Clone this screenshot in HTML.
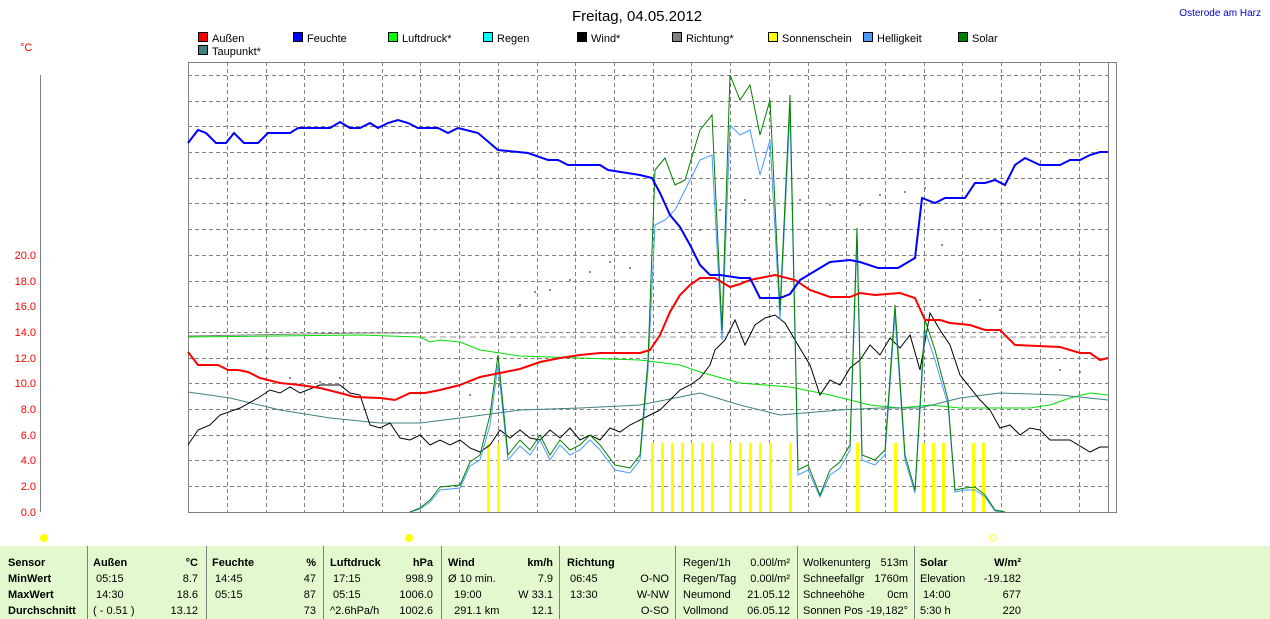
<!DOCTYPE html><html><head><meta charset="utf-8"><style>
body{margin:0;width:1270px;height:619px;background:#fff;font-family:"Liberation Sans",sans-serif;position:relative;overflow:hidden}
.t{position:absolute;font-size:11px;white-space:nowrap}
.b{font-weight:bold}
.r{text-align:right}
</style></head><body>
<svg width="1270" height="619" style="position:absolute;left:0;top:0" font-family="Liberation Sans" font-size="11">
<text x="637" y="21" font-size="15" text-anchor="middle" fill="#000">Freitag, 04.05.2012</text>
<text x="1261" y="16" font-size="10" text-anchor="end" fill="#0000cc">Osterode am Harz</text>
<text x="20" y="51" font-size="11" fill="#f00">°C</text>
<g stroke="#000" stroke-width="1">
<rect x="198.5" y="32.5" width="9" height="9" fill="#f00"/><rect x="293.5" y="32.5" width="9" height="9" fill="#00f"/>
<rect x="388.5" y="32.5" width="9" height="9" fill="#0f0"/><rect x="483.5" y="32.5" width="9" height="9" fill="#0ff"/>
<rect x="577.5" y="32.5" width="9" height="9" fill="#000"/><rect x="672.5" y="32.5" width="9" height="9" fill="#808080"/>
<rect x="768.5" y="32.5" width="9" height="9" fill="#ff0"/><rect x="863.5" y="32.5" width="9" height="9" fill="#4a9aff"/>
<rect x="958.5" y="32.5" width="9" height="9" fill="#008000"/><rect x="198.5" y="45.5" width="9" height="9" fill="#408080"/>
</g>
<g font-size="11" fill="#000">
<text x="212" y="42">Außen</text><text x="307" y="42">Feuchte</text><text x="402" y="42">Luftdruck*</text><text x="497" y="42">Regen</text><text x="591" y="42">Wind*</text><text x="686" y="42">Richtung*</text><text x="782" y="42">Sonnenschein</text><text x="877" y="42">Helligkeit</text><text x="972" y="42">Solar</text><text x="212" y="55">Taupunkt*</text>
</g>
<line x1="40.5" y1="75" x2="40.5" y2="512" stroke="#808080"/>
<g fill="#f00" font-size="11" text-anchor="end">
<text x="36" y="259">20.0</text><text x="36" y="285">18.0</text><text x="36" y="310">16.0</text><text x="36" y="336">14.0</text><text x="36" y="362">12.0</text><text x="36" y="387">10.0</text><text x="36" y="413">8.0</text><text x="36" y="439">6.0</text><text x="36" y="464">4.0</text><text x="36" y="490">2.0</text><text x="36" y="516">0.0</text>
</g>
<g stroke="#808080" stroke-dasharray="4,3" stroke-width="1">
<path d="M188 75.5H1108M188 101.5H1108M188 126.5H1108M188 152.5H1108M188 178.5H1108M188 203.5H1108M188 229.5H1108M188 255.5H1108M188 281.5H1108M188 306.5H1108M188 332.5H1108M188 358.5H1108M188 383.5H1108M188 409.5H1108M188 435.5H1108M188 460.5H1108M188 486.5H1108"/>
<path d="M227.5 62V512M266.5 62V512M304.5 62V512M343.5 62V512M382.5 62V512M420.5 62V512M459.5 62V512M498.5 62V512M537.5 62V512M575.5 62V512M614.5 62V512M653.5 62V512M691.5 62V512M730.5 62V512M769.5 62V512M808.5 62V512M846.5 62V512M885.5 62V512M924.5 62V512M962.5 62V512M1001.5 62V512M1040.5 62V512M1079.5 62V512"/>
</g>
<rect x="188.5" y="62.5" width="928" height="450" fill="none" stroke="#808080"/>
<line x1="1108.5" y1="62" x2="1108.5" y2="512" stroke="#808080"/>
<line x1="420" y1="337" x2="1108" y2="337" stroke="#999" stroke-dasharray="6,4"/>
<g fill="#ff0">
<rect x="487" y="443" width="3" height="69"/><rect x="497" y="443" width="3" height="69"/>
<rect x="651" y="443" width="3" height="69"/><rect x="661" y="443" width="3" height="69"/><rect x="671" y="443" width="3" height="69"/><rect x="681" y="443" width="3" height="69"/><rect x="691" y="443" width="3" height="69"/><rect x="701" y="443" width="3" height="69"/><rect x="711" y="443" width="3" height="69"/>
<rect x="729" y="443" width="3" height="69"/><rect x="739" y="443" width="3" height="69"/><rect x="749" y="443" width="3" height="69"/><rect x="759" y="443" width="3" height="69"/><rect x="769" y="443" width="3" height="69"/><rect x="789" y="443" width="3" height="69"/>
<rect x="856" y="443" width="3" height="69"/><rect x="894" y="443" width="3" height="69"/><rect x="922" y="443" width="3" height="69"/><rect x="932" y="443" width="3" height="69"/><rect x="942" y="443" width="3" height="69"/><rect x="972" y="443" width="3" height="69"/><rect x="982" y="443" width="3" height="69"/>
</g>
<g fill="#666">
<circle cx="520" cy="305" r="1"/><circle cx="535" cy="292" r="1"/><circle cx="550" cy="290" r="1"/><circle cx="570" cy="280" r="1"/><circle cx="590" cy="272" r="1"/><circle cx="610" cy="262" r="1"/><circle cx="630" cy="268" r="1"/><circle cx="700" cy="230" r="1"/><circle cx="720" cy="210" r="1"/><circle cx="745" cy="200" r="1"/><circle cx="770" cy="200" r="1"/><circle cx="800" cy="200" r="1"/><circle cx="830" cy="205" r="1"/><circle cx="860" cy="205" r="1"/><circle cx="880" cy="195" r="1"/><circle cx="905" cy="192" r="1"/><circle cx="925" cy="188" r="1"/><circle cx="942" cy="245" r="1"/><circle cx="980" cy="300" r="1"/><circle cx="1000" cy="310" r="1"/><circle cx="1060" cy="370" r="1"/><circle cx="1080" cy="372" r="1"/><circle cx="290" cy="378" r="1"/><circle cx="320" cy="382" r="1"/><circle cx="340" cy="378" r="1"/><circle cx="470" cy="395" r="1"/><circle cx="500" cy="385" r="1"/>
</g>
<polyline fill="none" stroke="#808080" stroke-width="1" points="188,336 360,333 420,333"/>
<polyline fill="none" stroke="#00e000" stroke-width="1" points="188,337 360,335 420,337 430,342 440,340 460,342 480,350 520,356 580,358 640,360 680,365 700,372 740,383 790,387 830,395 870,405 900,408 930,405 960,408 1030,408 1050,405 1070,398 1090,393 1108,395"/>
<polyline fill="none" stroke="#408080" stroke-width="1" points="188,392 230,398 280,410 330,418 380,423 420,423 460,418 520,410 580,408 640,405 700,393 740,405 780,415 840,410 880,408 920,408 960,398 1000,393 1060,395 1108,400"/>
<polyline fill="none" stroke="#000" stroke-width="1" points="188,445 198,430 210,425 220,415 240,408 258,398 270,390 280,393 290,387 300,393 320,385 340,385 350,393 360,395 370,425 380,428 390,423 400,438 410,440 420,435 430,445 440,440 450,445 460,440 470,448 480,452 490,445 500,430 510,438 520,430 530,438 540,440 550,430 560,438 570,428 580,440 590,435 600,440 610,428 620,432 630,425 640,420 650,415 660,410 670,400 680,390 690,385 700,378 710,365 715,350 725,340 735,320 745,345 755,325 765,318 775,315 785,323 795,340 810,365 820,395 830,380 840,385 850,368 860,360 870,345 880,355 890,338 900,348 910,335 920,370 930,313 940,330 950,345 960,375 980,400 990,410 1000,428 1010,425 1020,435 1030,428 1040,430 1050,440 1070,440 1090,452 1100,447 1108,447"/>
<polyline fill="none" stroke="#4a9aff" stroke-width="1" points="410,512 420,509 430,502 440,490 460,488 470,466 480,460 490,425 498,365 508,460 520,446 530,455 540,440 550,460 560,445 570,455 580,450 590,440 600,450 615,470 630,473 640,460 648,370 655,225 665,220 675,210 685,190 700,160 712,155 722,340 730,125 740,135 750,130 760,175 770,140 780,320 790,110 798,475 808,470 820,497 830,475 840,468 850,450 857,240 862,460 875,465 885,455 895,315 905,460 915,493 925,330 935,360 948,405 955,492 965,490 975,490 985,497 995,511 1005,512"/>
<polyline fill="none" stroke="#008000" stroke-width="1" points="410,512 420,508 430,500 440,487 460,485 470,462 480,455 490,415 498,355 508,455 520,440 530,450 540,435 550,455 560,440 570,450 580,445 590,435 600,445 615,465 630,468 640,455 648,360 655,170 665,158 675,185 685,180 700,130 712,115 722,330 730,75 740,100 750,85 760,135 770,100 780,310 790,95 798,470 808,465 820,495 830,470 840,462 850,445 857,228 862,455 875,460 885,450 895,305 905,455 915,490 925,320 935,350 948,400 955,490 965,488 975,487 985,495 995,510 1005,512"/>
<polyline fill="none" stroke="#f00" stroke-width="2" points="188,352 198,365 218,365 228,370 238,370 248,372 260,378 280,383 300,385 320,388 340,393 355,397 380,398 395,400 410,393 425,393 440,390 460,385 480,377 500,373 520,369 540,362 560,358 580,355 600,353 640,353 650,350 660,335 670,312 680,295 690,285 700,278 715,278 730,287 740,284 750,280 760,278 775,275 795,280 810,290 830,297 850,297 860,293 875,295 900,293 915,298 925,320 940,320 950,323 970,325 985,330 1000,330 1015,345 1060,347 1080,353 1090,353 1100,360 1108,358"/>
<polyline fill="none" stroke="#00f" stroke-width="2" points="188,143 198,130 206,133 216,143 226,143 234,133 244,143 258,143 268,133 290,133 298,128 330,128 340,122 350,128 360,128 370,123 378,128 388,123 398,120 408,123 418,128 438,128 448,133 458,128 478,133 498,150 528,153 548,160 558,160 568,165 600,165 608,170 640,175 652,178 660,193 670,215 680,227 690,245 700,265 710,275 720,275 740,278 750,278 760,298 780,298 790,294 800,280 830,262 850,260 860,262 878,268 898,268 915,258 922,198 935,203 945,198 965,198 975,183 985,183 995,180 1005,185 1015,165 1025,158 1040,165 1060,165 1070,160 1080,160 1090,155 1100,152 1108,152"/>
<circle cx="44" cy="538" r="4" fill="#ff0"/><circle cx="409" cy="538" r="4" fill="#ff0"/><circle cx="993" cy="538" r="3" fill="none" stroke="#ff0"/>
<rect x="0" y="546" width="1270" height="73" fill="#e4f8d0"/>
<g stroke="#808080"><path d="M87.5 546V619M206.5 546V619M323.5 546V619M441.5 546V619M559.5 546V619M675.5 546V619M797.5 546V619M914.5 546V619"/></g>
</svg>
<div class="t b" style="left:8px;top:555px;line-height:16px">Sensor<br>MinWert<br>MaxWert<br>Durchschnitt</div>
<div class="t" style="left:93px;top:555px;line-height:16px"><b>Außen</b><br>&nbsp;05:15<br>&nbsp;14:30<br>( - 0.51 )</div>
<div class="t r" style="left:150px;width:48px;top:555px;line-height:16px"><b>°C</b><br>8.7<br>18.6<br>13.12</div>
<div class="t" style="left:212px;top:555px;line-height:16px"><b>Feuchte</b><br>&nbsp;14:45<br>&nbsp;05:15<br>&nbsp;</div>
<div class="t r" style="left:270px;width:46px;top:555px;line-height:16px"><b>%</b><br>47<br>87<br>73</div>
<div class="t" style="left:330px;top:555px;line-height:16px"><b>Luftdruck</b><br>&nbsp;17:15<br>&nbsp;05:15<br>^2.6hPa/h</div>
<div class="t r" style="left:385px;width:48px;top:555px;line-height:16px"><b>hPa</b><br>998.9<br>1006.0<br>1002.6</div>
<div class="t" style="left:448px;top:555px;line-height:16px"><b>Wind</b><br>Ø 10 min.<br>&nbsp; 19:00<br>&nbsp; 291.1 km</div>
<div class="t r" style="left:500px;width:53px;top:555px;line-height:16px"><b>km/h</b><br>7.9<br>W 33.1<br>12.1</div>
<div class="t" style="left:567px;top:555px;line-height:16px"><b>Richtung</b><br>&nbsp;06:45<br>&nbsp;13:30<br>&nbsp;</div>
<div class="t r" style="left:620px;width:49px;top:555px;line-height:16px">&nbsp;<br>O-NO<br>W-NW<br>O-SO</div>
<div class="t" style="left:683px;top:555px;line-height:16px">Regen/1h<br>Regen/Tag<br>Neumond<br>Vollmond</div>
<div class="t r" style="left:740px;width:50px;top:555px;line-height:16px">0.00l/m²<br>0.00l/m²<br>21.05.12<br>06.05.12</div>
<div class="t" style="left:803px;top:555px;line-height:16px">Wolkenunterg<br>Schneefallgr<br>Schneehöhe<br>Sonnen Pos</div>
<div class="t r" style="left:860px;width:48px;top:555px;line-height:16px">513m<br>1760m<br>0cm<br>-19,182°</div>
<div class="t" style="left:920px;top:555px;line-height:16px"><b>Solar</b><br>Elevation<br>&nbsp;14:00<br>5:30 h</div>
<div class="t r" style="left:970px;width:51px;top:555px;line-height:16px"><b>W/m²</b><br>-19.182<br>677<br>220</div>
</body></html>
